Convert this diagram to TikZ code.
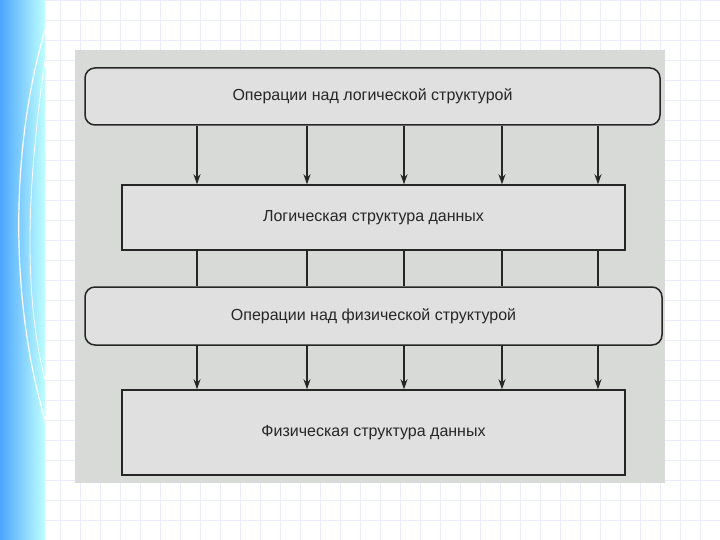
\documentclass[tikz,border=0pt]{standalone}
\usepackage{fontspec}
\setmainfont{Liberation Sans}
\usetikzlibrary{arrows.meta}
\begin{document}
\begin{tikzpicture}[x=1pt,y=-1pt,
  box/.style={draw=black!85,line width=1.5pt,fill=gray!24,font=\fontsize{16}{18}\selectfont,text=black!85},
  rbox/.style={box,rounded corners=10pt},
  arr/.style={line width=1.1pt,black!85,-{Stealth[length=10pt,width=7pt]}},
  ln/.style={line width=1.1pt,black!85}]
\useasboundingbox (0,0) rectangle (720,540);
\fill[white] (0,0) rectangle (720,540);
\foreach \i in {0,20,...,720} \draw[blue!8,line width=0.4pt] (\i,0) -- (\i,540);
\foreach \j in {0,20,...,540} \draw[blue!8,line width=0.4pt] (0,\j) -- (720,\j);
\shade[left color=cyan!50!blue!70,right color=cyan!25] (0,0) rectangle (45,540);
\draw[white,line width=1.2pt] (45,30) .. controls (10,150) and (10,300) .. (45,420);
\draw[white,line width=0.8pt] (45,60) .. controls (25,200) and (25,300) .. (45,380);
\fill[gray!30!green!3!gray!30] (75,50) rectangle (665,483);
\node[rbox,minimum width=575pt,minimum height=57pt] (b1) at (372.5,96.5) {Операции над логической структурой};
\node[box,minimum width=503pt,minimum height=65pt] (b2) at (373.5,217.5) {Логическая структура данных};
\node[rbox,minimum width=577pt,minimum height=58pt] (b3) at (373.5,316) {Операции над физической структурой};
\node[box,minimum width=503pt,minimum height=85pt] (b4) at (373.5,432.5) {Физическая структура данных};
\foreach \x in {197,307,404,502,598} {
  \draw[arr] (b1.south -| \x,0) -- (b2.north -| \x,0);
  \draw[ln] (b2.south -| \x,0) -- (b3.north -| \x,0);
  \draw[arr] (b3.south -| \x,0) -- (b4.north -| \x,0);
}
\end{tikzpicture}
\end{document}
